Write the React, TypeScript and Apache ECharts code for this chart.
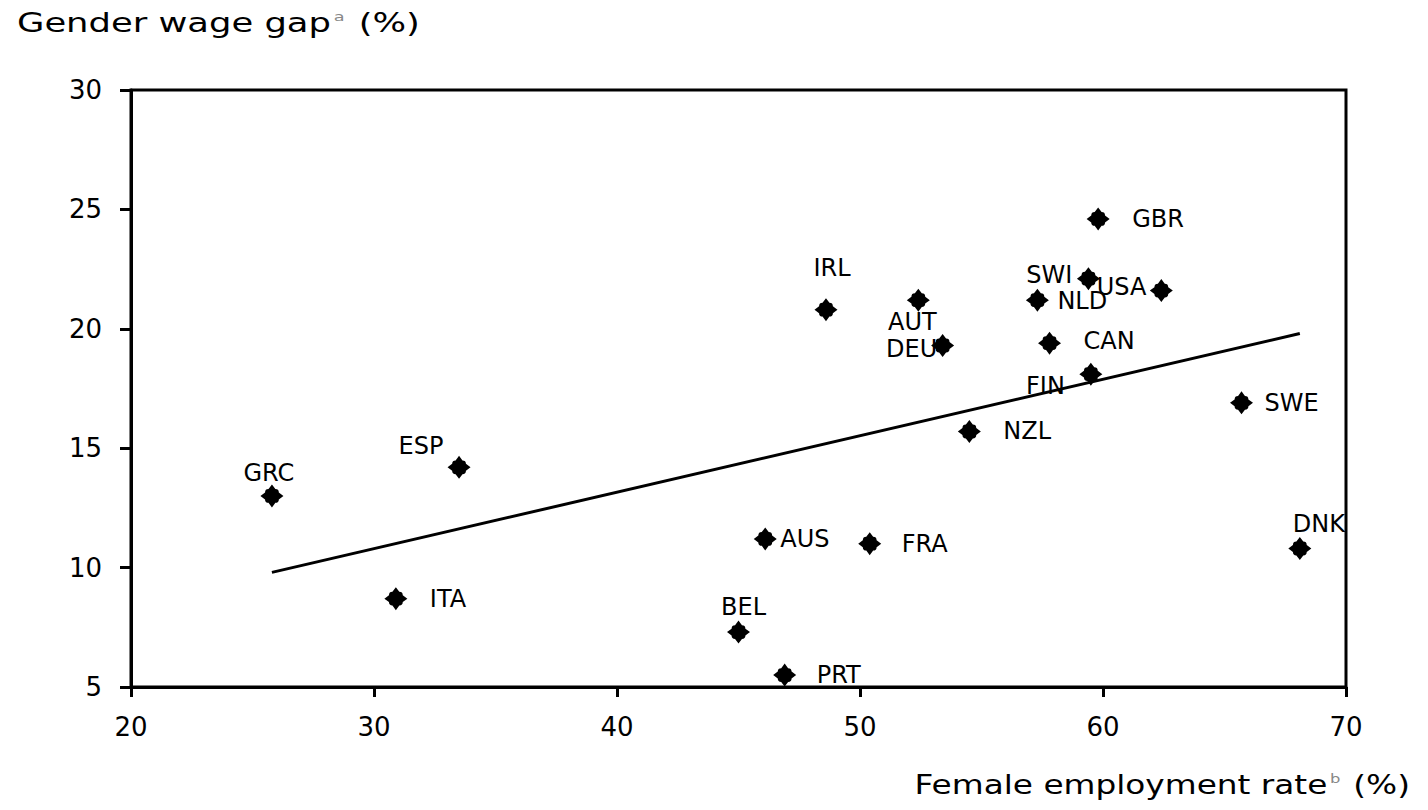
import React, { useEffect, useRef } from "react";
import * as echarts from "echarts";

// ---- data ----
const countries = ["GRC", "ITA", "ESP", "BEL", "PRT", "AUS", "IRL", "FRA", "AUT", "DEU", "NZL", "NLD", "SWI", "USA", "GBR", "CAN", "FIN", "SWE", "DNK"];
const femaleEmployment = [25.8, 30.9, 33.5, 45.0, 46.9, 46.1, 48.6, 50.4, 52.4, 53.4, 54.5, 57.3, 59.4, 62.4, 59.8, 57.8, 59.5, 65.7, 68.1];
const wageGap = [13.0, 8.7, 14.2, 7.3, 5.5, 11.2, 20.8, 11.0, 21.2, 19.3, 15.7, 21.2, 22.1, 21.6, 24.6, 19.4, 18.1, 16.9, 10.8];
const trendX = [25.8, 68.1];
const trendY = [9.8, 19.8];
const xTicks = { min: 20, max: 70, interval: 10 };
const yTicks = { min: 5, max: 30, interval: 5 };

// label placement (offset from marker centre, alignment)
const labelPlacement: Record<string, [number, number, string]> = {
  GRC: [-3, -23, "center"],
  ITA: [34, 0, "left"],
  ESP: [-38, -21, "center"],
  BEL: [5, -25, "center"],
  PRT: [32, 0, "left"],
  AUS: [15, 0, "left"],
  IRL: [6, -42, "center"],
  FRA: [32, 0, "left"],
  AUT: [-6, 22, "center"],
  DEU: [-31, 3, "center"],
  NZL: [34, 0, "left"],
  NLD: [20, 1, "left"],
  SWI: [-16, -4, "right"],
  USA: [-15, -4, "right"],
  GBR: [34, 0, "left"],
  CAN: [34, -2, "left"],
  FIN: [-26, 12, "right"],
  SWE: [23, 0, "left"],
  DNK: [19, -24, "center"],
};

const FONT = "DejaVu Sans";
const SYMBOL_SIZE = 23;
const markerPath =
  "path://M0,-10 L3,-6 Q6,-6 6,-3 L10,0 L6,3 Q6,6 3,6 L0,10 L-3,6 Q-6,6 -6,3 L-10,0 L-6,-3 Q-6,-6 -3,-6 Z";

export default function App() {
  const ref = useRef<HTMLDivElement>(null);
  useEffect(() => {
    if (!ref.current) return;
    const chart = echarts.init(ref.current, undefined, { renderer: "svg" });
    const half = SYMBOL_SIZE / 2;
    const scatterData = countries.map((c, i) => {
      const p = labelPlacement[c];
      return {
        name: c,
        value: [femaleEmployment[i], wageGap[i]],
        label: { position: [half + p[0], half + p[1]], align: p[2], verticalAlign: "middle" },
      };
    });
    const richStyles = {
      m: { fontSize: 26, fontFamily: FONT, fill: "#000", color: "#000" },
      s: { fontSize: 13, fontFamily: FONT, fill: "#888", color: "#888", verticalAlign: "top", padding: [0, 2, 0, 2] },
    };
    chart.setOption({
      animation: false,
      backgroundColor: "#fff",
      textStyle: { fontFamily: FONT },
      grid: {
        left: 131,
        right: 82,
        top: 90,
        bottom: 123,
        show: true,
        borderColor: "#000",
        borderWidth: 3,
      },
      xAxis: {
        type: "value",
        min: xTicks.min,
        max: xTicks.max,
        interval: xTicks.interval,
        axisLine: { show: true, lineStyle: { color: "#000", width: 3 } },
        axisTick: { show: true, inside: false, length: 10, lineStyle: { color: "#000", width: 3 } },
        splitLine: { show: false },
        axisLabel: { color: "#000", fontSize: 26, fontFamily: FONT, margin: 27 },
      },
      yAxis: {
        type: "value",
        min: yTicks.min,
        max: yTicks.max,
        interval: yTicks.interval,
        axisLine: { show: true, lineStyle: { color: "#000", width: 3 } },
        axisTick: { show: true, inside: false, length: 11, lineStyle: { color: "#000", width: 3 } },
        splitLine: { show: false },
        axisLabel: { color: "#000", fontSize: 26, fontFamily: FONT, margin: 29 },
      },
      graphic: [
        {
          type: "text",
          left: 17,
          top: 10,
          scaleX: 1.36,
          style: { text: "{m|Gender wage gap}{s|a}{m| (%)}", fill: "#000", rich: richStyles },
        },
        {
          type: "text",
          right: 18,
          top: 772,
          scaleX: 1.26,
          style: { text: "{m|Female employment rate}{s|b}{m| (%)}", fill: "#000", rich: richStyles },
        },
      ],
      series: [
        {
          type: "line",
          data: trendX.map((x, i) => [x, trendY[i]]),
          symbol: "none",
          lineStyle: { color: "#000", width: 3 },
          z: 1,
          silent: true,
        },
        {
          type: "scatter",
          data: scatterData,
          symbol: markerPath,
          symbolSize: SYMBOL_SIZE,
          itemStyle: { color: "#000", opacity: 1 },
          z: 3,
          label: {
            show: true,
            formatter: "{b}",
            color: "#000",
            fontSize: 24,
            fontFamily: FONT,
            textBorderWidth: 0,
          },
          labelLayout: { hideOverlap: false },
        },
      ],
    });
    return () => chart.dispose();
  }, []);
  return (
    <div
      ref={ref}
      style={{ position: "absolute", left: 0, top: 0, width: 1428, height: 810, background: "#fff" }}
    />
  );
}
